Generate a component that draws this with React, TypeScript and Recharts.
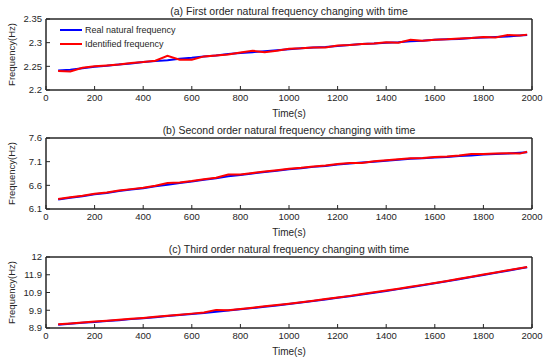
import React from 'react';
import { LineChart, Line, XAxis, YAxis, ReferenceArea } from 'recharts';

const times = [50, 100, 150, 200, 250, 300, 350, 400, 450, 500, 550, 600, 650, 700, 750, 800, 850, 900, 950, 1000,
  1050, 1100, 1150, 1200, 1250, 1300, 1350, 1400, 1450, 1500, 1550, 1600, 1650, 1700, 1750, 1800, 1850, 1900, 1950, 1980];

const realA = [2.241, 2.243, 2.246, 2.249, 2.251, 2.254, 2.256, 2.259, 2.261, 2.263, 2.266, 2.268, 2.271, 2.273, 2.276, 2.278, 2.280, 2.282, 2.284, 2.286,
  2.288, 2.290, 2.291, 2.293, 2.295, 2.297, 2.298, 2.300, 2.301, 2.303, 2.304, 2.306, 2.307, 2.308, 2.310, 2.311, 2.312, 2.313, 2.315, 2.316];
const identA = [2.240, 2.239, 2.247, 2.250, 2.252, 2.254, 2.257, 2.259, 2.262, 2.272, 2.264, 2.264, 2.271, 2.273, 2.275, 2.279, 2.283, 2.280, 2.283, 2.287,
  2.288, 2.290, 2.290, 2.294, 2.295, 2.297, 2.298, 2.301, 2.300, 2.306, 2.304, 2.306, 2.307, 2.309, 2.310, 2.312, 2.311, 2.316, 2.315, 2.317];

const realB = [6.30, 6.34, 6.37, 6.41, 6.44, 6.48, 6.51, 6.54, 6.58, 6.61, 6.65, 6.68, 6.72, 6.75, 6.79, 6.82, 6.85, 6.88, 6.91, 6.94,
  6.96, 6.99, 7.01, 7.04, 7.06, 7.08, 7.10, 7.12, 7.14, 7.16, 7.17, 7.19, 7.20, 7.22, 7.23, 7.25, 7.26, 7.27, 7.29, 7.30];
const identB = [6.31, 6.35, 6.38, 6.42, 6.45, 6.49, 6.52, 6.55, 6.59, 6.65, 6.66, 6.69, 6.73, 6.76, 6.83, 6.83, 6.86, 6.89, 6.92, 6.95,
  6.97, 7.00, 7.02, 7.05, 7.07, 7.07, 7.11, 7.13, 7.15, 7.17, 7.18, 7.20, 7.21, 7.23, 7.26, 7.26, 7.27, 7.28, 7.27, 7.31];

const realC = [9.09, 9.14, 9.19, 9.24, 9.29, 9.34, 9.40, 9.45, 9.51, 9.57, 9.63, 9.69, 9.75, 9.82, 9.88, 9.95, 10.02, 10.10, 10.17, 10.25,
  10.33, 10.42, 10.51, 10.60, 10.69, 10.79, 10.89, 10.99, 11.09, 11.20, 11.31, 11.42, 11.53, 11.65, 11.77, 11.89, 12.01, 12.13, 12.25, 12.32];
const identC = [9.11, 9.16, 9.21, 9.26, 9.31, 9.36, 9.42, 9.47, 9.53, 9.59, 9.65, 9.71, 9.77, 9.92, 9.90, 9.97, 10.04, 10.12, 10.19, 10.27,
  10.35, 10.44, 10.53, 10.62, 10.71, 10.81, 10.91, 11.01, 11.11, 11.22, 11.33, 11.44, 11.55, 11.67, 11.79, 11.91, 12.03, 12.15, 12.27, 12.34];

const xTicks = [0, 200, 400, 600, 800, 1000, 1200, 1400, 1600, 1800, 2000];
const ticksA = [2.2, 2.25, 2.3, 2.35];
const labelsA = ['2.2', '2.25', '2.3', '2.35'];
const ticksB = [6.1, 6.6, 7.1, 7.6];
const labelsB = ['6.1', '6.6', '7.1', '7.6'];
const ticksC = [8.9, 9.9, 10.9, 11.9, 12.9];
const labelsC = ['8.9', '9.9', '10.9', '11.9', '12'];

const titles = [
  '(a) First order natural frequency changing with time',
  '(b) Second order natural frequency changing with time',
  '(c) Third order natural frequency changing with time',
];
const seriesNames = ['Real natural frequency', 'Identified frequency'];

const AX = '#262626';
const FONT = '"Liberation Sans", Arial, sans-serif';

type PanelProps = {
  top: number;
  title: string;
  real: number[];
  ident: number[];
  yTicks: number[];
  yLabels: string[];
  legend?: boolean;
};

function Panel({ top, title, real, ident, yTicks, yLabels, legend }: PanelProps) {
  const data = times.map((t, i) => ({ t, real: real[i], ident: ident[i] }));
  const fmt = (v: number) => {
    const idx = yTicks.findIndex((x) => Math.abs(x - v) < 1e-9);
    return idx >= 0 ? yLabels[idx] : String(v);
  };
  const domain: [number, number] = [yTicks[0], yTicks[yTicks.length - 1]];
  return (
    <div style={{ position: 'absolute', left: 0, top, width: 550, height: 120 }}>
      <div style={{ position: 'absolute', left: 46, width: 486, top: 3, textAlign: 'center', fontSize: 10.5, lineHeight: '14px', color: AX, fontFamily: FONT, whiteSpace: 'nowrap' }}>
        {title}
      </div>
      <LineChart width={550} height={120} data={data} margin={{ top: 17, right: 17, bottom: 9, left: 0 }} style={{ fontFamily: FONT }}>
        <XAxis xAxisId="b" dataKey="t" type="number" domain={[0, 2000]} ticks={xTicks} interval={0}
          tickSize={-4} tickMargin={8} height={22} stroke={AX} tick={{ fill: AX, fontSize: 9.5 }}
          label={{ value: 'Time(s)', position: 'insideBottom', offset: -5, fill: AX, fontSize: 10 }} />
        <XAxis xAxisId="t" orientation="top" dataKey="t" type="number" domain={[0, 2000]} ticks={xTicks} interval={0}
          tickSize={-4} tick={false} height={1} stroke={AX} />
        <YAxis yAxisId="l" type="number" domain={domain} ticks={yTicks} interval={0} tickFormatter={fmt}
          tickSize={-4} tickMargin={8} width={46} stroke={AX} tick={{ fill: AX, fontSize: 9.5 }}
          label={{ value: 'Frequency(Hz)', angle: -90, position: 'insideLeft', offset: 12, fill: AX, fontSize: 9.5, style: { textAnchor: 'middle' } }} />
        <YAxis yAxisId="r" orientation="right" type="number" domain={domain} ticks={yTicks} interval={0}
          tickSize={-4} tick={false} width={1} stroke={AX} />
        <ReferenceArea xAxisId="b" yAxisId="l" x1={0} x2={2000} y1={domain[0]} y2={domain[1]} fill="none" fillOpacity={0} stroke={AX} strokeWidth={1} ifOverflow="visible" />
        <Line xAxisId="t" yAxisId="r" dataKey="real" stroke="transparent" strokeWidth={0} dot={false} activeDot={false} legendType="none" isAnimationActive={false} />
        <Line xAxisId="b" yAxisId="l" dataKey="real" stroke="#0000ff" strokeWidth={2} dot={false} isAnimationActive={false} />
        <Line xAxisId="b" yAxisId="l" dataKey="ident" stroke="#ff0000" strokeWidth={2} dot={false} isAnimationActive={false} />
      </LineChart>
      {legend && (
        <div style={{ position: 'absolute', left: 60, top: 22, fontFamily: FONT, fontSize: 9, color: AX }}>
          {[['#0000ff', seriesNames[0]], ['#ff0000', seriesNames[1]]].map(([c, n]) => (
            <div key={n} style={{ display: 'flex', alignItems: 'center', height: 14 }}>
              <div style={{ width: 22, height: 2, background: c, marginRight: 3 }} />
              <span>{n}</span>
            </div>
          ))}
        </div>
      )}
    </div>
  );
}

export default function App() {
  return (
    <div style={{ position: 'absolute', left: 0, top: 0, width: 550, height: 364, background: '#fff' }}>
      <Panel top={1} title={titles[0]} real={realA} ident={identA} yTicks={ticksA} yLabels={labelsA} legend />
      <Panel top={120} title={titles[1]} real={realB} ident={identB} yTicks={ticksB} yLabels={labelsB} />
      <Panel top={239} title={titles[2]} real={realC} ident={identC} yTicks={ticksC} yLabels={labelsC} />
    </div>
  );
}
